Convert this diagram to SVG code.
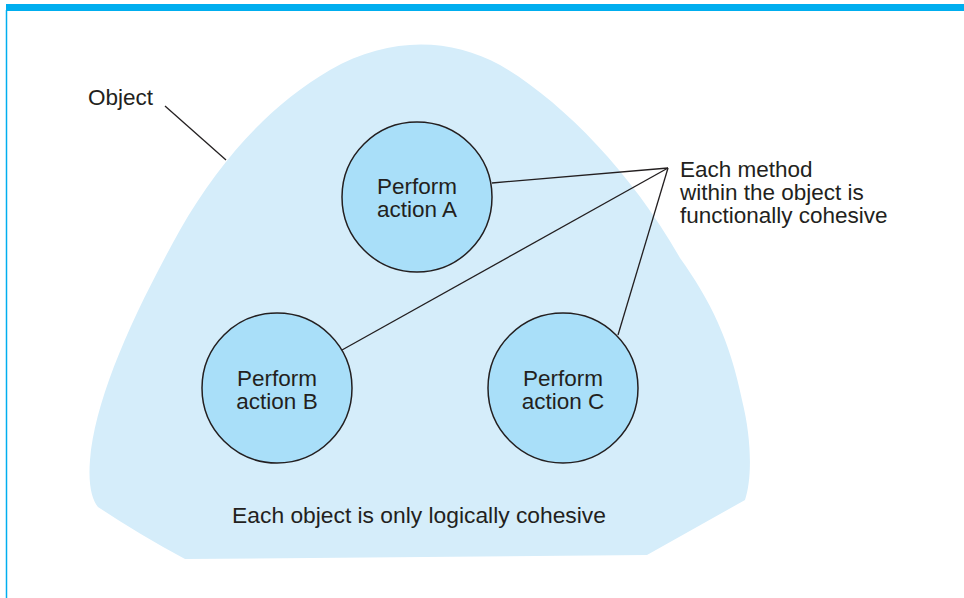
<svg xmlns="http://www.w3.org/2000/svg" width="964" height="598" viewBox="0 0 964 598">
<style>
.t{font-family:"Liberation Sans",Arial,sans-serif;font-size:22.5px;fill:#231F20}
.m{text-anchor:middle}
.node circle{fill:#A9DFF9;stroke:#231F20;stroke-width:1.5}
#connectors line{stroke:#231F20;stroke-width:1.3}
</style>
<rect x="0" y="0" width="964" height="598" fill="#FFFFFF"/>
<rect x="6" y="4" width="958" height="7" fill="#00AEEF"/>
<line x1="6.5" y1="10" x2="6.5" y2="598" stroke="#00AEEF" stroke-width="1.5"/>
<g id="object">
<path d="M 185 559 L 647 555 L 745 500 C 752 480, 752 440, 742 400 C 730 340, 710 300, 680 258 C 630 170, 560 100, 500 65 C 450 38, 390 36, 330 70 C 270 105, 220 160, 180 230 C 130 320, 95 400, 90 460 C 88 485, 92 500, 98 507 Q 140 535 185 559 Z" fill="#D5EDFA"/>
<text class="t" x="88" y="105">Object</text>
<text class="t m" x="419" y="523" style="font-size:22.8px">Each object is only logically cohesive</text>
</g>
<g id="connectors">
<line x1="165" y1="106" x2="226" y2="160"/>
<line x1="492" y1="183" x2="668" y2="168"/>
<line x1="342" y1="350" x2="668" y2="168"/>
<line x1="618" y1="335" x2="668" y2="168"/>
</g>
<g id="actionA" class="node">
<circle cx="417" cy="197" r="75"/>
<text class="t m" x="417" y="194">Perform</text>
<text class="t m" x="417" y="217">action A</text>
</g>
<g id="actionB" class="node">
<circle cx="277" cy="388" r="75"/>
<text class="t m" x="277" y="386">Perform</text>
<text class="t m" x="277" y="409">action B</text>
</g>
<g id="actionC" class="node">
<circle cx="563" cy="388" r="75"/>
<text class="t m" x="563" y="386">Perform</text>
<text class="t m" x="563" y="409">action C</text>
</g>
<g id="methodNote">
<text class="t" x="680" y="176.5">Each method</text>
<text class="t" x="680" y="199.5">within the object is</text>
<text class="t" x="680" y="222.5">functionally cohesive</text>
</g>
</svg>
